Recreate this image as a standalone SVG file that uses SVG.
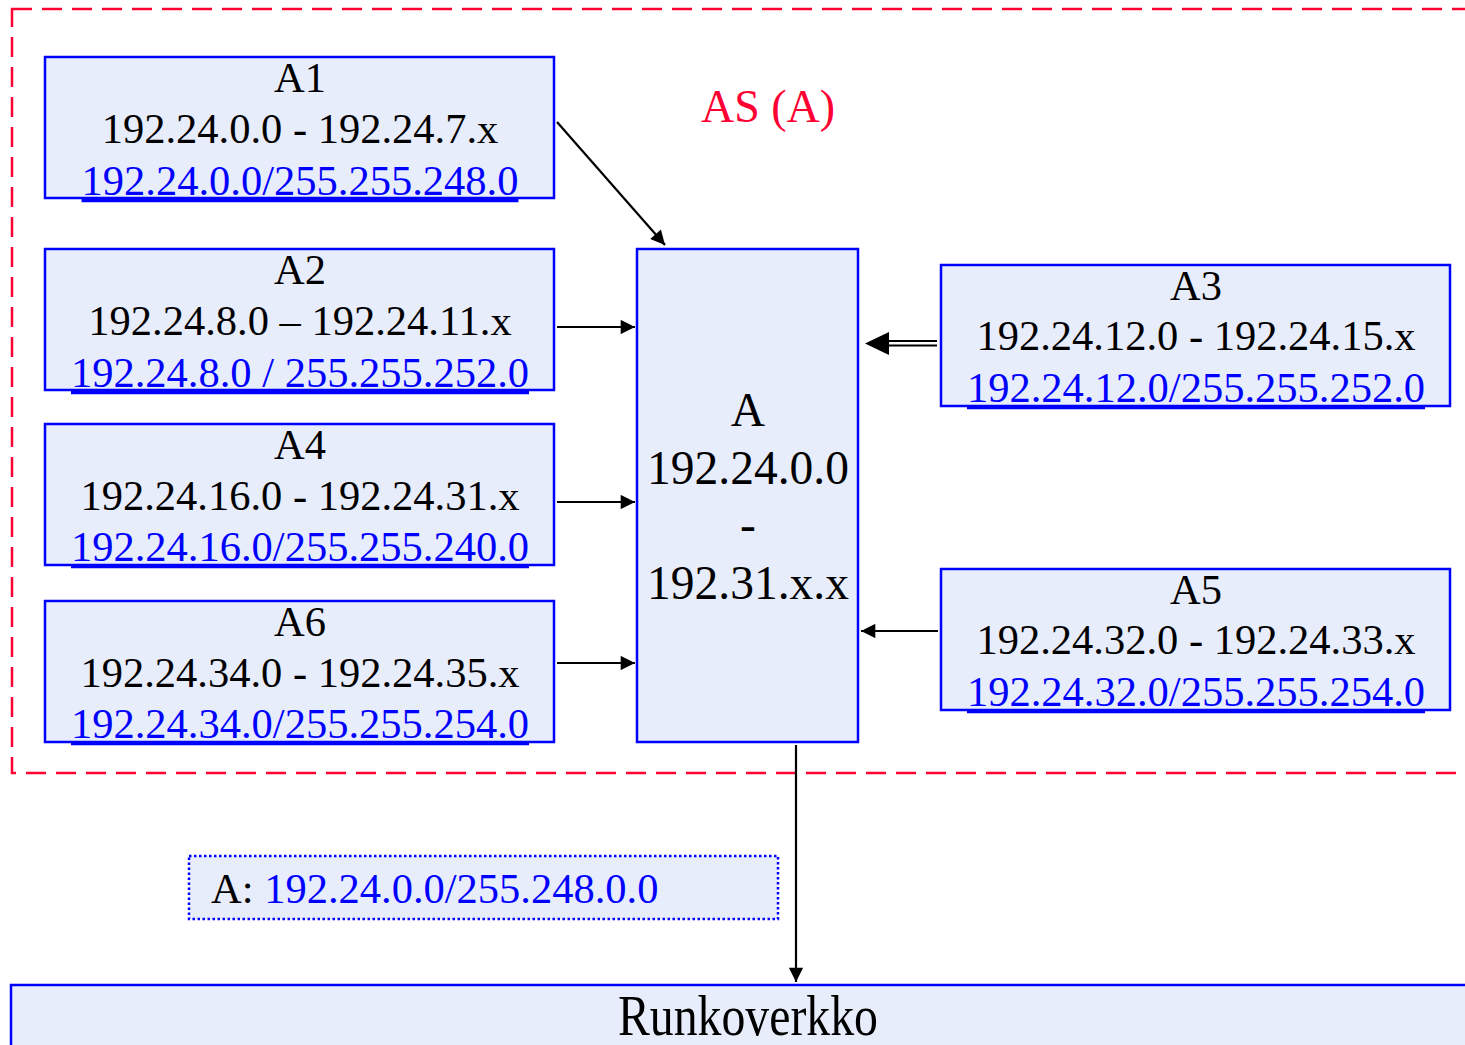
<svg xmlns="http://www.w3.org/2000/svg" width="1465" height="1045" viewBox="0 0 1465 1045">
  <defs>
    <style>
      .box { fill: #E8EDFC; stroke: #0000FF; stroke-width: 2.5; }
      .t { font-family: "Liberation Serif", "Times New Roman", serif; font-size: 42.5px; fill: #000; text-anchor: middle; }
      .big { font-size: 47.5px; }
      .link { fill: #0000FF; text-decoration: underline; }
      .conn { stroke: #000; stroke-width: 2.2; fill: none; }
    </style>
    <marker id="arrow" viewBox="0 0 10 10" refX="10" refY="5" markerWidth="8" markerHeight="6.5" markerUnits="strokeWidth" orient="auto">
      <path d="M0,0 L10,5 L0,10 Z" fill="#000"/>
    </marker>
  </defs>

  <rect width="1465" height="1045" fill="#FFFFFF"/>

  <!-- autonomous system boundary -->
  <g id="as-boundary">
    <rect x="12" y="9" width="1480" height="764" fill="none" stroke="#FF0033" stroke-width="2.5" stroke-dasharray="20 10"/>
    <text x="768" y="122" class="t" style="font-size:46px; fill:#FF0033">AS (A)</text>
  </g>

  <g id="A1">
    <rect x="45" y="57" width="509" height="141" class="box"/>
    <text x="300" y="92" class="t">A1</text>
    <text x="300" y="143" class="t">192.24.0.0 - 192.24.7.x</text>
    <text x="300" y="195" class="t link">192.24.0.0/255.255.248.0</text>
  </g>

  <g id="A2">
    <rect x="45" y="249" width="509" height="141" class="box"/>
    <text x="300" y="284" class="t">A2</text>
    <text x="300" y="335" class="t">192.24.8.0 – 192.24.11.x</text>
    <text x="300" y="387" class="t link">192.24.8.0 / 255.255.252.0</text>
  </g>

  <g id="A4">
    <rect x="45" y="424" width="509" height="141" class="box"/>
    <text x="300" y="459" class="t">A4</text>
    <text x="300" y="510" class="t">192.24.16.0 - 192.24.31.x</text>
    <text x="300" y="561" class="t link">192.24.16.0/255.255.240.0</text>
  </g>

  <g id="A6">
    <rect x="45" y="601" width="509" height="141" class="box"/>
    <text x="300" y="636" class="t">A6</text>
    <text x="300" y="687" class="t">192.24.34.0 - 192.24.35.x</text>
    <text x="300" y="738" class="t link">192.24.34.0/255.255.254.0</text>
  </g>

  <g id="A">
    <rect x="637" y="249" width="221" height="493" class="box"/>
    <text x="748" y="426" class="t big">A</text>
    <text x="748" y="484" class="t big">192.24.0.0</text>
    <text x="748" y="541" class="t big">-</text>
    <text x="748" y="599" class="t big">192.31.x.x</text>
  </g>

  <g id="A3">
    <rect x="941" y="265" width="509" height="141" class="box"/>
    <text x="1196" y="300" class="t">A3</text>
    <text x="1196" y="350" class="t">192.24.12.0 - 192.24.15.x</text>
    <text x="1196" y="402" class="t link">192.24.12.0/255.255.252.0</text>
  </g>

  <g id="A5">
    <rect x="941" y="569" width="509" height="141" class="box"/>
    <text x="1196" y="604" class="t">A5</text>
    <text x="1196" y="654" class="t">192.24.32.0 - 192.24.33.x</text>
    <text x="1196" y="706" class="t link">192.24.32.0/255.255.254.0</text>
  </g>

  <g id="summary">
    <rect x="189" y="856" width="589" height="63" fill="#E8EDFC" stroke="#0000FF" stroke-width="2.5" stroke-dasharray="2.5 2.5"/>
    <text x="211" y="903" class="t" style="text-anchor:start">A: <tspan fill="#0000FF">192.24.0.0/255.248.0.0</tspan></text>
  </g>

  <g id="Runkoverkko">
    <rect x="11" y="985" width="1480" height="80" class="box"/>
    <text x="748" y="1035" class="t" style="font-size:56px" textLength="260" lengthAdjust="spacingAndGlyphs">Runkoverkko</text>
  </g>

  <g id="connectors">
    <line x1="557" y1="122" x2="665" y2="245" class="conn" marker-end="url(#arrow)"/>
    <line x1="557" y1="327" x2="635" y2="327" class="conn" marker-end="url(#arrow)"/>
    <line x1="557" y1="502" x2="635" y2="502" class="conn" marker-end="url(#arrow)"/>
    <line x1="557" y1="663" x2="635" y2="663" class="conn" marker-end="url(#arrow)"/>
    <line x1="938" y1="631" x2="861" y2="631" class="conn" marker-end="url(#arrow)"/>
    <line x1="796" y1="745" x2="796" y2="982" class="conn" marker-end="url(#arrow)"/>
    <!-- double-shafted arrow from A3 -->
    <line x1="937" y1="341" x2="880" y2="341" class="conn"/>
    <line x1="937" y1="345.5" x2="880" y2="345.5" class="conn"/>
    <path d="M865,343.5 L889,332 L889,355 Z" fill="#000"/>
  </g>
</svg>
